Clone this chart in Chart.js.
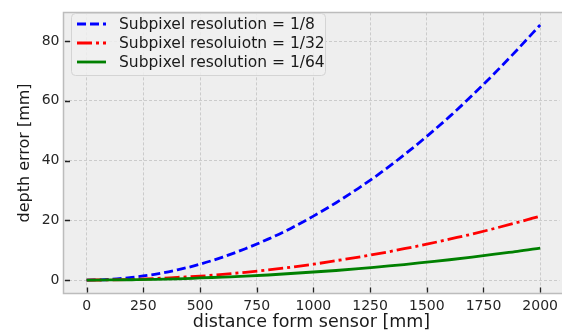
<!DOCTYPE html>
<html>
<head>
<meta charset="utf-8">
<script src="https://cdn.jsdelivr.net/npm/chart.js@4"></script>
<style>
  html, body { margin: 0; padding: 0; background: #ffffff; }
  #wrap { width: 562px; height: 330px; }
</style>
</head>
<body>
<div id="wrap"><canvas id="errorChart" width="562" height="330"></canvas></div>
<script>
const distances = [0, 100, 200, 300, 400, 500, 600, 700, 800, 900, 1000,
                   1100, 1200, 1300, 1400, 1500, 1600, 1700, 1800, 1900, 2000];
const errorEighth = [0, 0.2, 0.9, 1.9, 3.4, 5.3, 7.7, 10.5, 13.7, 17.3, 21.4,
                     25.9, 30.8, 36.1, 41.9, 48.1, 54.7, 61.8, 69.3, 77.2, 85.4];
const errorThirtySecond = [0, 0.05, 0.2, 0.5, 0.9, 1.3, 1.9, 2.6, 3.4, 4.3, 5.3,
                           6.5, 7.7, 9.0, 10.5, 12.0, 13.7, 15.4, 17.3, 19.3, 21.4];
const errorSixtyFourth = [0, 0.03, 0.1, 0.2, 0.4, 0.7, 1.0, 1.3, 1.7, 2.2, 2.7,
                          3.2, 3.8, 4.5, 5.2, 6.0, 6.8, 7.7, 8.7, 9.6, 10.7];
const seriesLabels = ['Subpixel resolution = 1/8', 'Subpixel resoluiotn = 1/32', 'Subpixel resolution = 1/64'];
const xTickValues = [0, 250, 500, 750, 1000, 1250, 1500, 1750, 2000];
const yTickValues = [0, 20, 40, 60, 80];

const FONT = 'DejaVu Sans';
const LINE_W = 2.8;

function toPoints(values) {
    return distances.map((d, i) => ({ x: d, y: values[i] }));
}

// frame, inward tick marks and the matplotlib-like legend
const framePlugin = {
    id: 'frame',
    beforeDraw(chart) {
        const { ctx, chartArea: a } = chart;
        ctx.save();
        ctx.fillStyle = '#eeeeee';
        ctx.fillRect(a.left, a.top, chart.width - a.left, a.bottom - a.top);
        ctx.restore();
    },
    afterDraw(chart) {
        const { ctx, chartArea: a } = chart;
        const xs = chart.scales.x;
        const ys = chart.scales.y;
        ctx.save();
        ctx.strokeStyle = '#bcbcbc';
        ctx.lineWidth = 1.5;
        ctx.beginPath();
        ctx.moveTo(chart.width, a.top);
        ctx.lineTo(a.left, a.top);
        ctx.lineTo(a.left, a.bottom);
        ctx.lineTo(chart.width, a.bottom);
        ctx.stroke();

        ctx.strokeStyle = '#222222';
        ctx.lineWidth = 1.3;
        ctx.beginPath();
        yTickValues.forEach(v => {
            const y = Math.round(ys.getPixelForValue(v)) + 0.5;
            ctx.moveTo(a.left + 1.5, y);
            ctx.lineTo(a.left + 6.5, y);
        });
        xTickValues.forEach(v => {
            const x = Math.round(xs.getPixelForValue(v)) + 0.5;
            ctx.moveTo(x, a.bottom - 1);
            ctx.lineTo(x, a.bottom - 6);
        });
        ctx.stroke();

        // legend box
        const bx = 71.5, by = 13.5, bw = 254, bh = 62, r = 4;
        ctx.beginPath();
        ctx.moveTo(bx + r, by);
        ctx.arcTo(bx + bw, by, bx + bw, by + bh, r);
        ctx.arcTo(bx + bw, by + bh, bx, by + bh, r);
        ctx.arcTo(bx, by + bh, bx, by, r);
        ctx.arcTo(bx, by, bx + bw, by, r);
        ctx.closePath();
        ctx.fillStyle = 'rgba(240,240,240,0.85)';
        ctx.fill();
        ctx.strokeStyle = '#d4d4d4';
        ctx.lineWidth = 1;
        ctx.stroke();

        ctx.font = '15.5px "' + FONT + '"';
        ctx.textBaseline = 'middle';
        ctx.textAlign = 'left';
        chart.data.datasets.forEach((ds, i) => {
            const y = 24 + i * 19;
            ctx.beginPath();
            ctx.setLineDash(ds.borderDash || []);
            ctx.strokeStyle = ds.borderColor;
            ctx.lineWidth = ds.borderWidth;
            ctx.moveTo(77, y);
            ctx.lineTo(106, y);
            ctx.stroke();
            ctx.setLineDash([]);
            ctx.fillStyle = '#1a1a1a';
            ctx.fillText(ds.label, 119, y + 1);
        });
        ctx.restore();
    }
};

const ctx = document.getElementById('errorChart').getContext('2d');

new Chart(ctx, {
    type: 'line',
    data: {
        datasets: [
            {
                label: seriesLabels[0],
                data: toPoints(errorEighth),
                borderColor: '#0000ff',
                borderWidth: LINE_W,
                borderDash: [9, 4],
                order: 3
            },
            {
                label: seriesLabels[1],
                data: toPoints(errorThirtySecond),
                borderColor: '#ff0000',
                borderWidth: LINE_W,
                borderDash: [15, 4, 3, 4],
                order: 2
            },
            {
                label: seriesLabels[2],
                data: toPoints(errorSixtyFourth),
                borderColor: '#008000',
                borderWidth: LINE_W,
                order: 1
            }
        ]
    },
    options: {
        responsive: false,
        animation: false,
        devicePixelRatio: 1,
        layout: { padding: { top: 6, right: 0, left: 0, bottom: 0 } },
        elements: {
            point: { radius: 0 },
            line: { cubicInterpolationMode: 'monotone', fill: false }
        },
        plugins: {
            legend: { display: false },
            tooltip: { enabled: false }
        },
        scales: {
            x: {
                type: 'linear',
                min: -102,
                max: 2085,
                afterBuildTicks: s => { s.ticks = xTickValues.map(v => ({ value: v })); },
                afterFit: s => { s.height = 36.5; },
                ticks: {
                    font: { family: FONT, size: 14 },
                    color: '#262626',
                    padding: 4,
                    maxRotation: 0,
                    callback: v => String(v)
                },
                grid: {
                    color: '#cbcbcb',
                    lineWidth: 1,
                    drawTicks: false
                },
                border: { display: false, dash: [3, 2] },
                title: {
                    display: true,
                    text: 'distance form sensor [mm]',
                    font: { family: FONT, size: 17.5 },
                    color: '#1a1a1a',
                    padding: { top: 0, bottom: -3 }
                }
            },
            y: {
                min: -4.5,
                max: 89.6,
                afterBuildTicks: s => { s.ticks = yTickValues.map(v => ({ value: v })); },
                afterFit: s => { s.width = 63.5; },
                ticks: {
                    font: { family: FONT, size: 14 },
                    color: '#262626',
                    padding: 4,
                    callback: v => String(v)
                },
                grid: {
                    color: '#cbcbcb',
                    lineWidth: 1,
                    drawTicks: false
                },
                border: { display: false, dash: [3, 2] },
                title: {
                    display: true,
                    text: 'depth error [mm]',
                    font: { family: FONT, size: 16 },
                    color: '#1a1a1a',
                    padding: { top: 15, bottom: 0 }
                }
            }
        }
    },
    plugins: [framePlugin]
});
</script>
</body>
</html>
